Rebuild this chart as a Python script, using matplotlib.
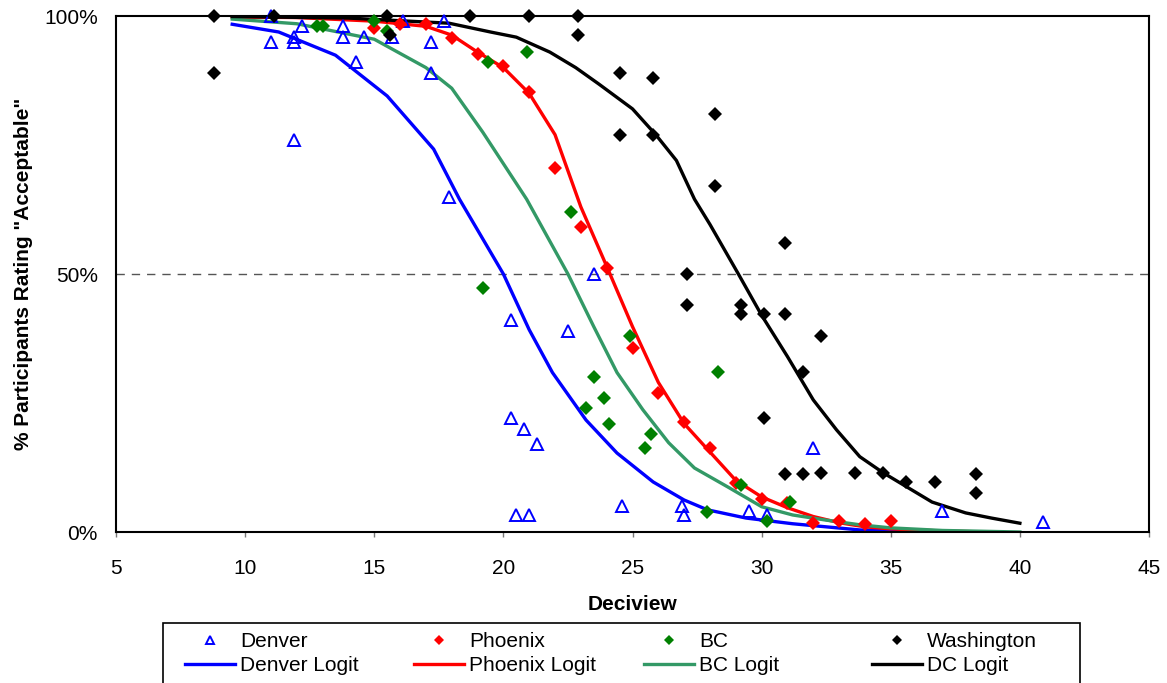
import matplotlib
matplotlib.use("Agg")
import matplotlib.pyplot as plt
from matplotlib.patches import Rectangle

plt.rcParams['font.family'] = ['Liberation Sans', 'DejaVu Sans']

# observed points (deciview, % acceptable)
denver_x = [11.0, 11.0, 11.9, 11.9, 12.2, 13.8, 13.8, 14.3, 14.6, 15.7, 16.1, 17.2, 17.2, 17.7,
            11.9, 17.9, 20.3, 22.5, 20.3, 20.8, 21.3, 20.5, 21.0, 23.5, 24.6, 26.9, 27.0, 29.5,
            30.2, 32.0, 37.0, 40.9]
denver_y = [95, 100, 96, 95, 98, 98, 96, 91, 96, 96, 99, 95, 89, 99,
            76, 65, 41, 39, 22, 20, 17, 3.3, 3.3, 50, 5, 5, 3.3, 4,
            3.3, 16.3, 4, 2]

phoenix_x = [15, 16, 17, 18, 19, 20, 21, 22, 23, 24, 25, 26, 27, 28, 29, 30, 31, 32, 33, 34, 35]
phoenix_y = [97.7, 98.4, 98.4, 95.7, 92.6, 90.3, 85.2, 70.5, 59.2, 51.2, 35.7, 27.0, 21.4,
             16.3, 9.5, 6.4, 5.6, 1.7, 2.1, 1.6, 2.1]

bc_x = [12.8, 13.0, 15.0, 15.5, 19.4, 20.9, 22.6, 19.2, 24.9, 23.5, 23.9, 23.2, 24.1, 25.7,
        25.5, 28.3, 29.2, 27.9, 30.2, 31.1]
bc_y = [98, 98, 99, 97, 91, 93, 62, 47.2, 38, 30, 26, 24, 21, 19,
        16.3, 31, 9.1, 3.9, 2.1, 5.8]

dc_x = [8.8, 8.8, 11.1, 15.5, 15.6, 18.7, 21.0, 22.9, 22.9, 24.5, 25.8, 24.5, 25.8, 28.2,
        28.2, 27.1, 27.1, 29.2, 29.2, 30.1, 30.9, 30.9, 32.3, 31.6, 30.1, 30.9, 31.6, 32.3,
        33.6, 34.7, 35.6, 36.7, 38.3, 38.3]
dc_y = [100, 89, 100, 100, 96.3, 100, 100, 100, 96.3, 89, 88, 77, 77, 81,
        67, 50, 44, 44, 42.3, 42.3, 56, 42.3, 38, 31, 22, 11.3, 11.3, 11.5,
        11.4, 11.5, 9.7, 9.7, 11.3, 7.6]

# fitted logit curves
denver_fit_x = [9.5, 11.3, 13.5, 15.5, 17.3, 18.3, 20.0, 21.0, 21.9, 23.2, 24.4, 25.8, 27.0,
                27.9, 29.4, 31.2, 33.8, 36.0, 38.7]
denver_fit_y = [98.4, 96.9, 92.4, 84.5, 74.2, 64.5, 50, 39.2, 30.9, 21.7, 15.3, 9.7, 6.2,
                4.3, 2.7, 1.6, 0.4, 0.1, 0]

phoenix_fit_x = [9.5, 12, 15, 17, 18, 19, 20, 21, 22, 23, 24, 25, 26, 27, 28, 29, 30, 31,
                 32, 33, 34, 35, 37, 38.7]
phoenix_fit_y = [99.8, 99.7, 99, 98, 96.3, 93, 90, 85, 77, 63, 51.5, 39.8, 29, 21, 15.5, 10,
                 6.8, 4.7, 3, 1.8, 1.0, 0.6, 0.2, 0]

bc_fit_x = [9.5, 12, 15, 17, 18, 19.2, 20.9, 22.5, 23.5, 24.4, 25.4, 26.4, 27.4, 28.7, 30,
            31.2, 32.5, 33.8, 35, 37, 40]
bc_fit_y = [99.4, 98.5, 95.5, 90, 86, 77.5, 64.5, 50, 39.8, 30.9, 23.7, 17.3, 12.4, 8.7, 4.9,
            3.3, 2.3, 1.4, 0.8, 0.3, 0]

dc_fit_x = [9.5, 14, 17.9, 19.5, 20.5, 21.8, 22.8, 23.7, 25, 25.9, 26.7, 27.4, 28, 29.1, 30,
            31, 32, 32.9, 33.8, 34.7, 36.6, 37.9, 38.9, 40]
dc_fit_y = [99.9, 99.6, 98.6, 96.9, 95.9, 93, 90, 86.8, 82, 77, 72, 64.5, 59.6, 50, 42,
            34, 25.6, 19.8, 14.6, 11.5, 5.8, 3.7, 2.7, 1.7]

W, H = 1167, 683
fig = plt.figure(figsize=(W / 100, H / 100), dpi=100)
ax = fig.add_axes([116 / W, 1 - 532 / H, (1149 - 116) / W, (532 - 16) / H])

ax.axhline(50, color='#555555', lw=1, dashes=(6, 5), zorder=1)

ln_den, = ax.plot(denver_fit_x, denver_fit_y, color='#0000FF', lw=2.4, zorder=2)
ln_phx, = ax.plot(phoenix_fit_x, phoenix_fit_y, color='#FF0000', lw=2.4, zorder=2)
ln_bc, = ax.plot(bc_fit_x, bc_fit_y, color='#339966', lw=2.4, zorder=2)
ln_dc, = ax.plot(dc_fit_x, dc_fit_y, color='black', lw=2.4, zorder=2)

pt_den, = ax.plot(denver_x, denver_y, ls='none', marker='^', ms=8.5, mfc='none', mec='#0000FF',
                  mew=1.4, clip_on=False, zorder=3)
pt_phx, = ax.plot(phoenix_x, phoenix_y, ls='none', marker='D', ms=7.3, color='#FF0000', mew=0,
                  clip_on=False, zorder=3)
pt_bc, = ax.plot(bc_x, bc_y, ls='none', marker='D', ms=7.3, color='#008000', mew=0,
                 clip_on=False, zorder=3)
pt_dc, = ax.plot(dc_x, dc_y, ls='none', marker='D', ms=7.3, color='black', mew=0,
                 clip_on=False, zorder=4)

ax.set_xlim(5, 45)
ax.set_ylim(0, 100)
ax.set_xticks([5, 10, 15, 20, 25, 30, 35, 40, 45])
ax.set_yticks([0, 50, 100])
ax.set_yticklabels(['0%', '50%', '100%'])
ax.tick_params(axis='x', direction='out', length=3.6, width=1, color='#777777', pad=16, labelsize=15)
ax.tick_params(axis='y', length=0, pad=13, labelsize=15)
for s in ax.spines.values():
    s.set_linewidth(1.5)

ax.set_xlabel('Deciview', fontsize=15, fontweight='bold', labelpad=12)
ax.set_ylabel('% Participants Rating "Acceptable"', fontsize=15, fontweight='bold', labelpad=8)

# legend: one frameless column per city, inside a single box
fig.add_artist(Rectangle((163 / W, -2 / H), (1080 - 163) / W, (683 - 623 + 2) / H,
                         transform=fig.transFigure, fill=False, edgecolor='black', lw=1.2))
columns = [(185, pt_den, ln_den, 'Denver', 'Denver Logit'),
           (414, pt_phx, ln_phx, 'Phoenix', 'Phoenix Logit'),
           (644, pt_bc, ln_bc, 'BC', 'BC Logit'),
           (872, pt_dc, ln_dc, 'Washington', 'DC Logit')]
for xpx, pt, ln, lab1, lab2 in columns:
    fig.legend([pt, ln], [lab1, lab2], loc='upper left',
               bbox_to_anchor=(xpx / W, 1 - 632 / H), frameon=False, fontsize=15,
               handlelength=2.4, handletextpad=0.24, labelspacing=0.24,
               borderpad=0, borderaxespad=0, markerscale=0.75)

fig.savefig('out.png', dpi=100)
